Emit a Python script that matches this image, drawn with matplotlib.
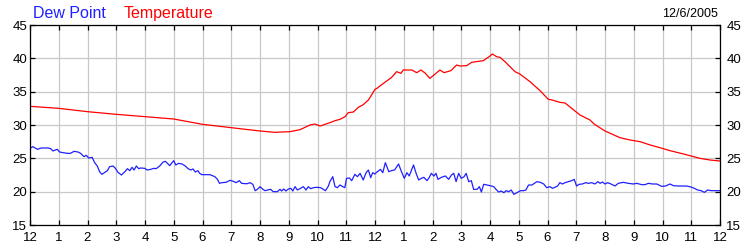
import matplotlib
matplotlib.use("Agg")
import matplotlib.pyplot as plt

# hours since midnight, readings in degrees F
temp_hours = [0.0, 1.0, 2.0, 3.0, 4.0, 5.0, 6.0, 7.0, 8.0, 8.5, 9.04, 9.39, 9.74,
              9.91, 10.09, 10.43, 10.61, 10.78, 10.96, 11.07, 11.25, 11.42, 11.59,
              11.77, 11.88, 12.0, 12.07, 12.17, 12.58, 12.75, 12.9, 12.98, 13.28,
              13.45, 13.6, 13.74, 13.91, 14.26, 14.4, 14.64, 14.84, 14.96, 15.19,
              15.36, 15.77, 16.0, 16.08, 16.23, 16.35, 16.52, 16.87, 17.04, 17.39,
              17.74, 18.03, 18.16, 18.43, 18.61, 19.13, 19.48, 19.62, 20.0, 20.52,
              20.87, 21.22, 21.57, 21.91, 22.26, 22.78, 23.3, 23.65, 24.0]
temperature = [32.8, 32.5, 32.0, 31.6, 31.25, 30.9, 30.1, 29.6, 29.1, 28.9, 29.0, 29.3,
               30.0, 30.15, 29.85, 30.35, 30.65, 30.85, 31.25, 31.85, 31.95, 32.65,
               33.05, 33.75, 34.5, 35.35, 35.5, 35.85, 37.15, 38.0, 37.75, 38.25,
               38.25, 37.85, 38.25, 37.8, 37.0, 38.25, 37.85, 38.15, 39.0, 38.85,
               38.9, 39.4, 39.65, 40.35, 40.65, 40.25, 40.15, 39.5, 38.0, 37.65,
               36.5, 35.15, 33.85, 33.75, 33.4, 33.3, 31.5, 30.75, 30.15, 29.1,
               28.1, 27.75, 27.5, 27.0, 26.6, 26.15, 25.6, 25.0, 24.75, 24.6]

dew_hours = [0.0, 0.1, 0.26, 0.39, 0.63, 0.72, 0.8, 0.88, 0.95, 1.03, 1.15, 1.3, 1.41,
             1.53, 1.67, 1.76, 1.88, 1.96, 2.04, 2.16, 2.25, 2.34, 2.42, 2.5, 2.6,
             2.69, 2.77, 2.89, 2.97, 3.06, 3.18, 3.29, 3.39, 3.47, 3.55, 3.62, 3.7,
             3.78, 3.85, 3.99, 4.08, 4.2, 4.31, 4.39, 4.51, 4.63, 4.71, 4.8, 4.86,
             4.94, 5.0, 5.07, 5.17, 5.29, 5.4, 5.5, 5.59, 5.67, 5.75, 5.84, 5.9,
             5.98, 6.26, 6.43, 6.52, 6.59, 6.67, 6.82, 6.96, 7.07, 7.17, 7.28, 7.36,
             7.48, 7.56, 7.65, 7.75, 7.83, 7.91, 8.0, 8.09, 8.17, 8.27, 8.37, 8.46,
             8.6, 8.7, 8.75, 8.83, 8.9, 8.99, 9.07, 9.14, 9.22, 9.3, 9.39, 9.51,
             9.6, 9.68, 9.76, 9.86, 9.97, 10.11, 10.2, 10.28, 10.38, 10.43, 10.53,
             10.61, 10.69, 10.78, 10.88, 10.95, 11.01, 11.11, 11.19, 11.3, 11.39,
             11.48, 11.59, 11.69, 11.77, 11.85, 11.92, 11.99, 12.07, 12.19, 12.27,
             12.36, 12.48, 12.57, 12.68, 12.82, 12.92, 13.02, 13.11, 13.19, 13.34,
             13.43, 13.52, 13.61, 13.7, 13.81, 13.89, 13.96, 14.05, 14.12, 14.19,
             14.31, 14.45, 14.56, 14.66, 14.74, 14.82, 14.91, 15.0, 15.1, 15.17,
             15.26, 15.35, 15.43, 15.55, 15.63, 15.7, 15.78, 15.9, 16.05, 16.13,
             16.21, 16.3, 16.39, 16.48, 16.56, 16.65, 16.74, 16.83, 16.94, 17.06,
             17.17, 17.25, 17.34, 17.46, 17.58, 17.63, 17.75, 17.87, 17.97, 18.09,
             18.17, 18.26, 18.35, 18.43, 18.52, 18.61, 18.72, 18.84, 18.93, 19.01,
             19.1, 19.21, 19.33, 19.42, 19.54, 19.65, 19.75, 19.83, 19.91, 20.0,
             20.09, 20.21, 20.35, 20.46, 20.64, 20.81, 20.99, 21.1, 21.28, 21.39,
             21.51, 21.65, 21.8, 21.97, 22.11, 22.26, 22.38, 22.53, 22.67, 22.84,
             22.99, 23.11, 23.22, 23.34, 23.46, 23.57, 23.69, 23.83, 24.0]
dew_point = [26.5, 26.75, 26.35, 26.55, 26.55, 26.45, 26.1, 26.25, 26.35, 25.95, 25.85,
             25.75, 25.75, 26.05, 25.95, 25.75, 25.25, 25.45, 25.05, 25.15, 24.35,
             23.85, 23.0, 22.6, 22.9, 23.15, 23.75, 23.85, 23.5, 22.9, 22.5, 22.95,
             23.45, 23.15, 23.65, 23.25, 23.85, 23.45, 23.55, 23.5, 23.25, 23.35,
             23.5, 23.45, 23.85, 24.45, 24.55, 24.15, 23.9, 24.35, 24.65, 24.0,
             24.25, 24.15, 23.85, 23.45, 23.25, 23.4, 22.95, 23.15, 22.75, 22.55,
             22.55, 22.25, 21.85, 21.25, 21.35, 21.4, 21.7, 21.55, 21.35, 21.65,
             21.25, 21.2, 21.2, 21.35, 21.1, 20.15, 20.35, 20.75, 20.4, 20.15, 20.25,
             20.35, 20.0, 20.0, 20.35, 20.1, 20.4, 20.1, 20.4, 20.5, 20.1, 20.75,
             20.25, 20.45, 20.75, 20.25, 20.75, 20.45, 20.6, 20.65, 20.6, 20.35,
             20.15, 20.85, 21.5, 22.25, 20.75, 20.6, 21.0, 20.75, 20.6, 22.0, 22.05,
             21.65, 22.6, 22.25, 22.75, 21.75, 22.85, 23.25, 22.1, 22.85, 22.65,
             22.95, 23.35, 22.85, 24.35, 23.0, 23.15, 23.25, 24.15, 23.0, 22.0,
             22.85, 22.35, 24.0, 22.75, 21.75, 22.0, 22.15, 21.65, 22.15, 22.75,
             22.35, 22.75, 21.85, 22.15, 22.35, 21.85, 22.5, 22.75, 21.5, 22.75,
             22.0, 22.25, 22.75, 21.5, 21.65, 20.35, 20.35, 20.75, 19.95, 21.1, 21.0,
             20.85, 20.75, 20.35, 19.95, 20.1, 19.85, 20.15, 20.0, 20.25, 19.6,
             19.85, 20.15, 20.15, 20.25, 21.0, 21.0, 21.35, 21.5, 21.4, 21.15, 20.6,
             20.75, 20.5, 20.65, 20.85, 21.35, 21.15, 21.35, 21.5, 21.65, 21.85,
             20.85, 21.1, 21.15, 21.35, 21.25, 21.35, 21.15, 21.5, 21.25, 21.45,
             21.15, 21.35, 21.15, 20.85, 21.25, 21.4, 21.25, 21.15, 21.25, 21.05,
             21.05, 21.25, 21.15, 21.15, 20.8, 20.85, 21.15, 20.9, 20.85, 20.85,
             20.85, 20.7, 20.5, 20.25, 20.15, 19.9, 20.25, 20.15, 20.15, 20.15]

hour_labels = ["12", "1", "2", "3", "4", "5", "6", "7", "8", "9", "10", "11",
               "12", "1", "2", "3", "4", "5", "6", "7", "8", "9", "10", "11", "12"]
y_ticks = [15, 20, 25, 30, 35, 40, 45]
date_label = "12/6/2005"

plt.rcParams['font.family'] = ['Liberation Sans', 'DejaVu Sans']

fig = plt.figure(figsize=(7.5, 2.5), dpi=100)
ax = fig.add_axes([30 / 750, 25 / 250, 690 / 750, 200 / 250])

ax.plot(temp_hours, temperature, color='#ff0000', lw=0.9)
ax.plot(dew_hours, dew_point, color='#2020ff', lw=0.9)

ax.set_xlim(0, 24)
ax.set_ylim(15, 45)
ax.set_xticks(range(25))
ax.set_xticklabels(hour_labels)
ax.set_yticks(y_ticks)
ax.grid(True, color='#c8c8c8', lw=0.9)
ax.set_axisbelow(True)
for s in ax.spines.values():
    s.set_linewidth(0.9)

ax.tick_params(direction='in', length=3.5, width=0.9, top=True, right=True,
               labelsize=9.5, colors='black')
ax.tick_params(axis='x', pad=5)
ax.tick_params(axis='y', pad=2)

# labels on right side with their own spacing
ax2 = ax.twinx()
ax2.set_ylim(15, 45)
ax2.set_yticks(y_ticks)
ax2.tick_params(direction='in', length=3.5, width=0.9, labelsize=9.5, pad=4.5)
for s in ax2.spines.values():
    s.set_visible(False)

fig.text(33 / 750, 1 - 18 / 250, "Dew Point", color='#2020ff', fontsize=11.5,
         va='baseline', ha='left')
fig.text(124 / 750, 1 - 18 / 250, "Temperature", color='#ff0000', fontsize=11.5,
         va='baseline', ha='left')
fig.text(718 / 750, 1 - 17.3 / 250, date_label, color='black', fontsize=9,
         va='baseline', ha='right')

fig.savefig("out.png", dpi=100)
